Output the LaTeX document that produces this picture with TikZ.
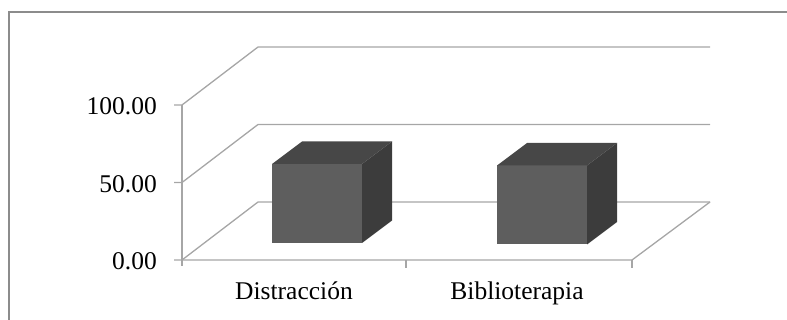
\documentclass[tikz,border=0pt]{standalone}
\usepackage{fontspec}
\setmainfont{Liberation Serif}
\usepackage{tikz}
\usetikzlibrary{calc}
\definecolor{gridgray}{HTML}{A6A6A6}
\definecolor{framegray}{HTML}{8C8C8C}
\definecolor{barfront}{HTML}{5E5E5E}
\definecolor{bartop}{HTML}{474747}
\definecolor{barside}{HTML}{3C3C3C}
\tikzstyle{gridline} = [draw=gridgray, line width=1.3pt]
\tikzstyle{frameline} = [draw=framegray, line width=1.6pt]
\tikzstyle{axislabel} = [inner sep=0pt, anchor=base east,
    font=\fontsize{25.5}{30}\selectfont]
\tikzstyle{catlabel} = [inner sep=0pt, anchor=base,
    font=\fontsize{25.5}{30}\selectfont]
% box: front left x, front top y
\newcommand{\drawbox}[2]{
    \fill [barfront] (#1,#2) rectangle ++(90,79);
    \fill [bartop] (#1,#2) -- ++(30,-22.5) -- ++(90,0) -- ++(-30,22.5) -- cycle;
    \fill [barside] (#1+90,#2) -- ++(30,-22.5) -- ++(0,79) -- ++(-30,22.5) -- cycle;
}

\begin{document}
\begin{tikzpicture}[x=1pt, y=-1pt]
    \useasboundingbox (0,0) rectangle (787,320);
    % Frame
    \draw [frameline] (787,12) -- (9,12) -- (9,320);
    % Grid
    \foreach \y/\yb in {105/47, 182.5/124.5, 260/202} {
        \draw [gridline] (174,\y) -- (182,\y) -- (258,\yb) -- (710,\yb);
    }
    \draw [gridline] (182,105) -- (182,266);
    \draw [gridline] (182,260) -- (632,260) -- (710,202);
    \draw [gridline] (406,260) -- (406,268);
    \draw [gridline] (632,260) -- (632,268);
    % Bars
    \drawbox{272}{164}
    \drawbox{497}{165.5}
    % Nodes
    \node [axislabel] (v100) at (157,115) {100.00};
    \node [axislabel] (v50) at (157,192.5) {50.00};
    \node [axislabel] (v0) at (157,270) {0.00};
    \node [catlabel] (distraccion) at (294,300) {Distracción};
    \node [catlabel] (biblio) at (517,300) {Biblioterapia};
\end{tikzpicture}
\end{document}
